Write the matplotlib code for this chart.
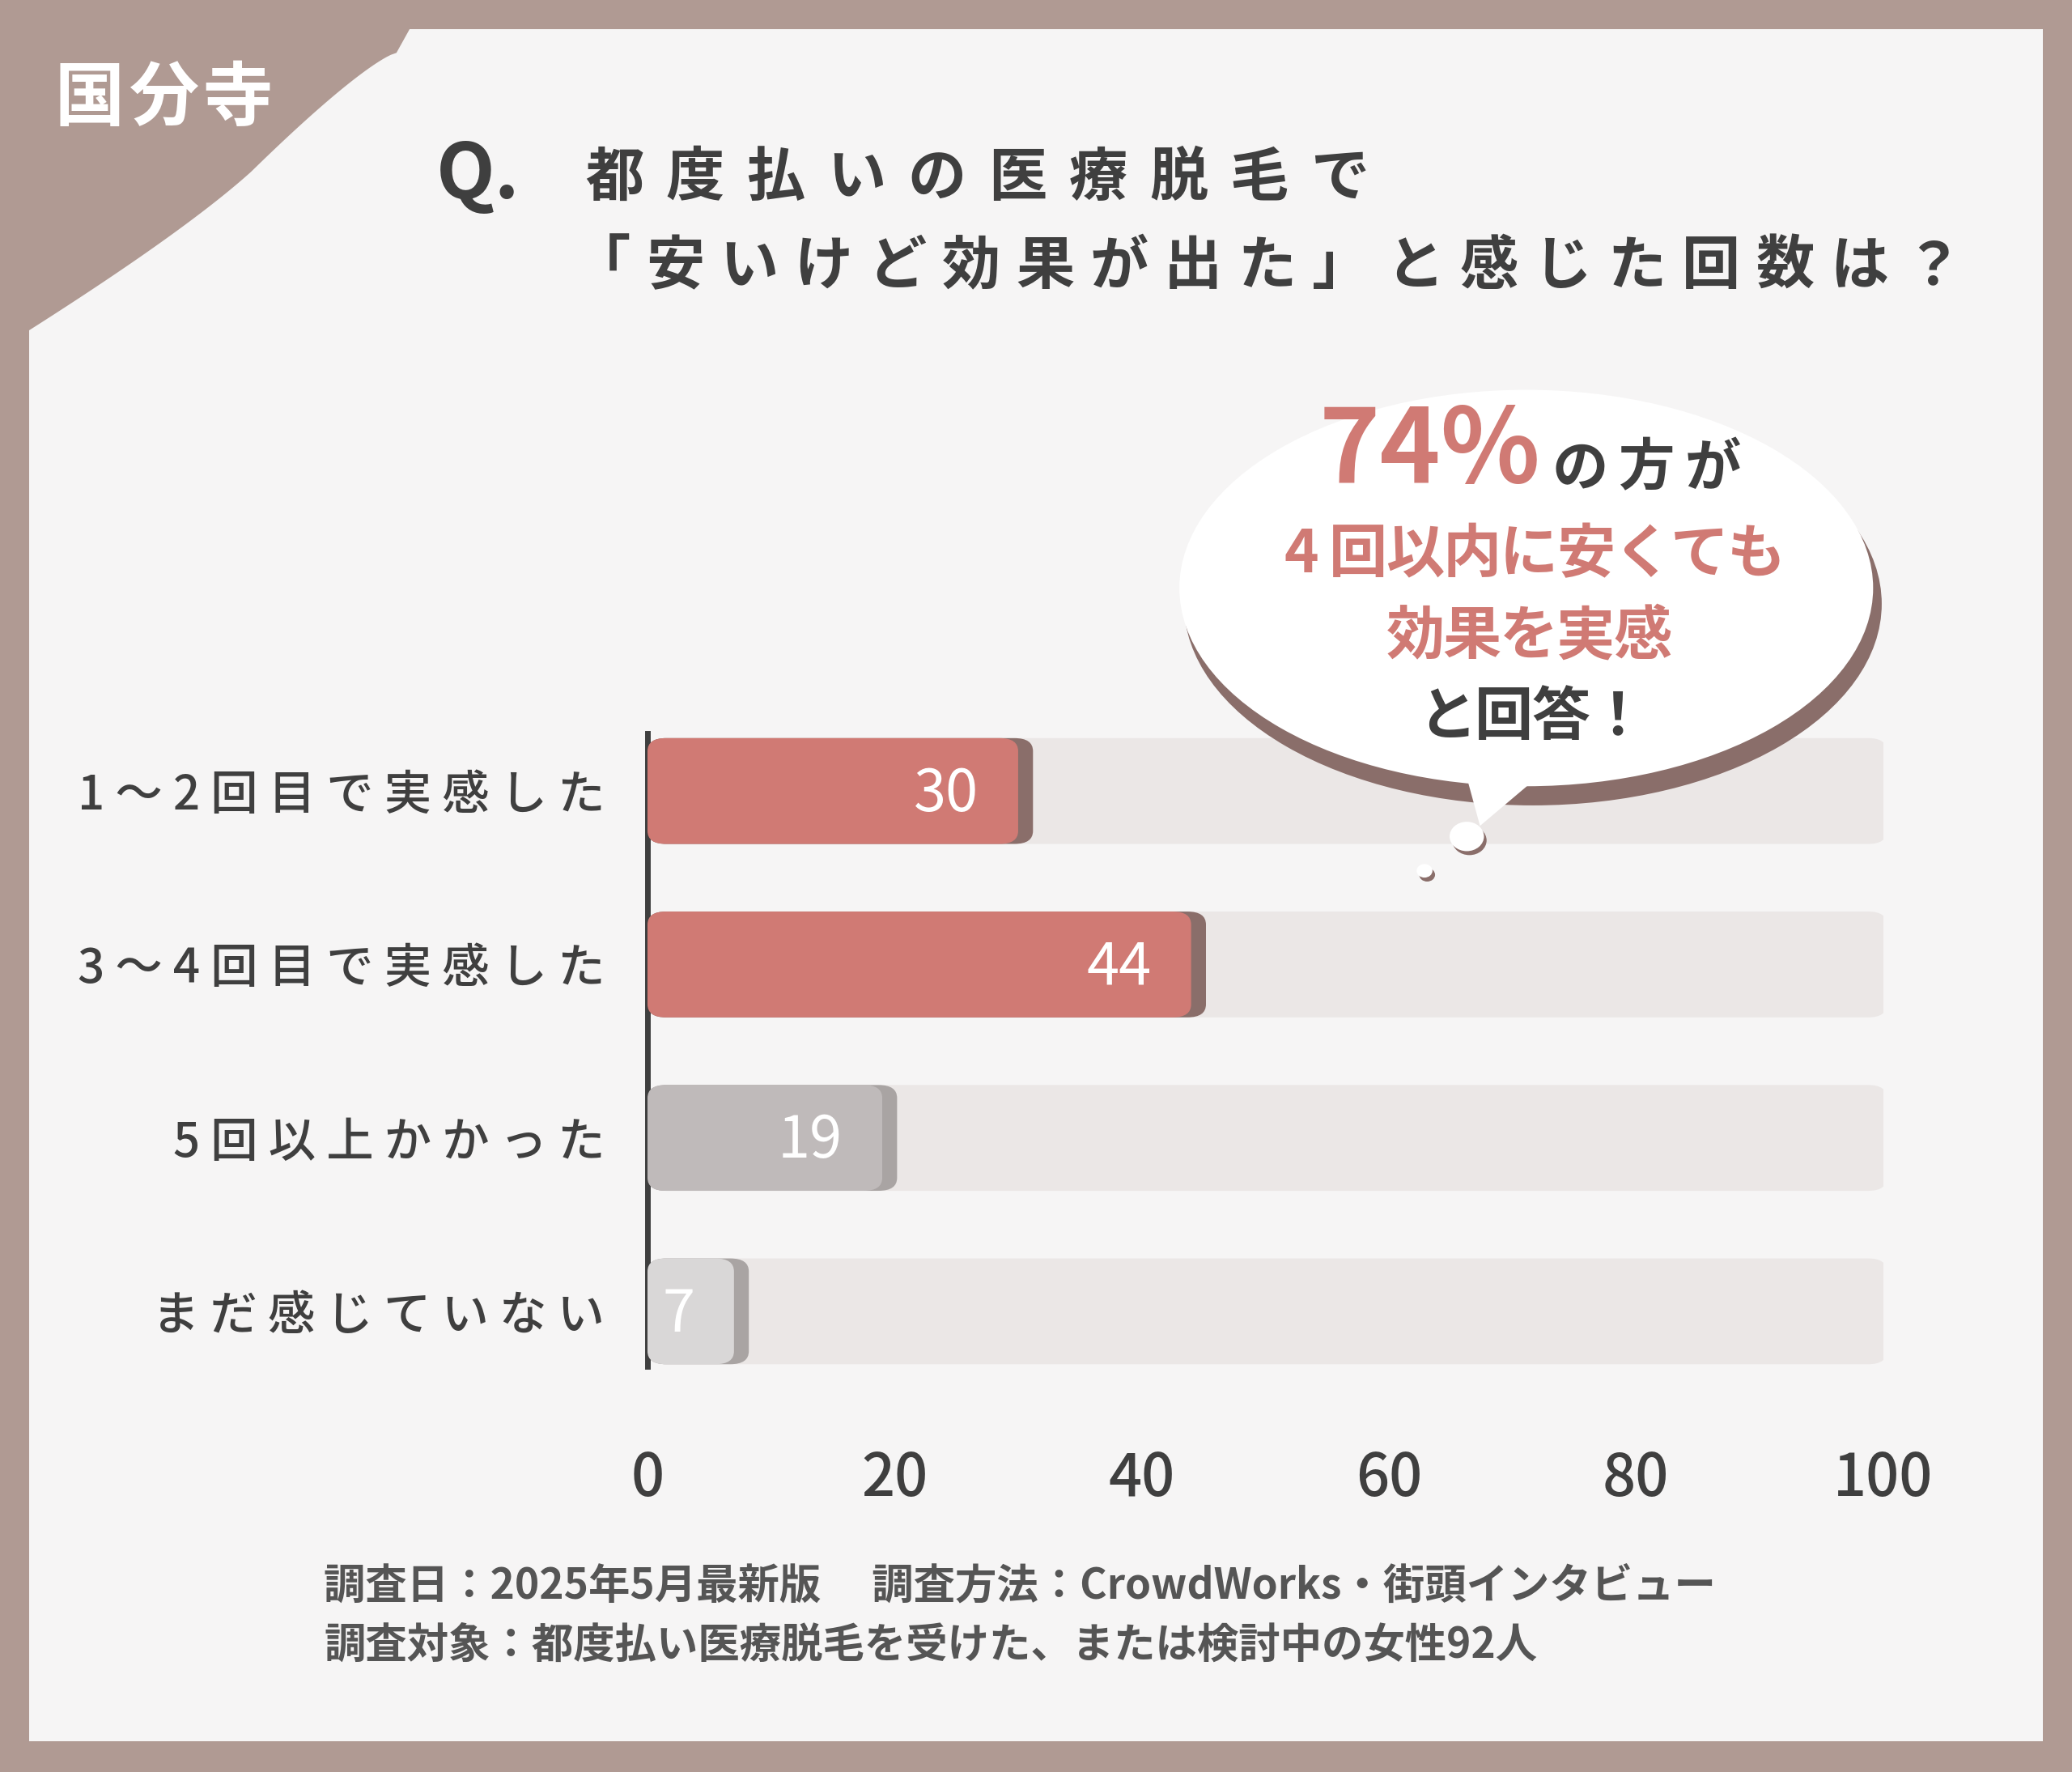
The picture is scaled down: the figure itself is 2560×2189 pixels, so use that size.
import matplotlib
matplotlib.use("Agg")
import matplotlib.pyplot as plt
from matplotlib.patches import Rectangle, FancyBboxPatch, Ellipse, Circle, Polygon
import numpy as np

plt.rcParams["font.family"] = "Noto Sans CJK JP"

categories = ["1～2回目で実感した", "3～4回目で実感した", "5回以上かかった", "まだ感じていない"]
values = [30, 44, 19, 7]
bar_colors = ["#d07a74", "#d07a74", "#bfbaba", "#d9d7d7"]
xticks = [0, 20, 40, 60, 80, 100]

W, H = 1568, 1341  # reference pixel frame
fig = plt.figure(figsize=(25.6, 21.89), dpi=100, facecolor="#b09a93")

def fx(x): return x / W
def fy(y): return 1 - y / H

def spaced(text, x0, y, pitch, **kw):
    # draw characters at a fixed pitch (wide letter spacing)
    for k, ch in enumerate(text):
        fig.text(fx(x0 + k * pitch), fy(y), ch, ha="center", va="center", **kw)

# white panel
fig.patches.append(Rectangle((fx(22), fy(1318)), fx(1546) - fx(22), fy(22) - fy(1318),
                             transform=fig.transFigure, facecolor="#f6f5f5", edgecolor="none", zorder=0))
# brown corner blob
t = np.linspace(0, 1, 60)
curve_x = np.concatenate([[22, 310], 300 - 60 * t ** 0.7 - 50 * t, 190 - 100 * t - 68 * t ** 2, [22]])
curve_y = np.concatenate([[22, 22], 40 + 90 * t, 130 + 90 * t + 30 * t ** 2, [250]])
fig.patches.append(Polygon([(fx(a), fy(b)) for a, b in zip(curve_x, curve_y)], closed=True,
                           transform=fig.transFigure, facecolor="#b09a93", edgecolor="none", zorder=1))
spaced("国分寺", 68, 75, 56, color="white", fontsize=62, fontweight="bold", zorder=2)

# title
fig.text(fx(330), fy(133), "Q.", color="#3f3f3f", fontsize=68, fontweight="bold", va="center")
spaced("都度払いの医療脱毛で", 465, 135, 61, color="#3f3f3f", fontsize=52, fontweight="bold")
spaced("「安いけど効果が出た」と感じた回数は？", 455, 202, 56, color="#3f3f3f", fontsize=52,
       fontweight="bold")

# axes
ax = fig.add_axes([fx(490), fy(1058), fx(1425) - fx(490), fy(533) - fy(1058)], zorder=3)
ax.set_facecolor("none")
y = np.arange(len(categories))
h = 0.61
for i, v in enumerate(values):
    ax.add_patch(FancyBboxPatch((0, i - h / 2), 100.3, h, boxstyle="round,pad=0,rounding_size=1.5",
                                mutation_aspect=0.05, facecolor="#ebe7e6", edgecolor="none", zorder=1))
    ax.add_patch(FancyBboxPatch((0, i - h / 2), v + 1.2, h, boxstyle="round,pad=0,rounding_size=1.5",
                                mutation_aspect=0.05, facecolor="#8a6e6a" if i < 2 else "#a9a4a3",
                                edgecolor="none", zorder=2))
    ax.add_patch(FancyBboxPatch((0, i - h / 2), v, h, boxstyle="round,pad=0,rounding_size=1.5",
                                mutation_aspect=0.05, facecolor=bar_colors[i], edgecolor="none", zorder=3))
    ax.text(v - 3.2, i + 0.02, str(v), color="white", fontsize=52, ha="right", va="center", zorder=4)
ax.set_xlim(0, 100)
ax.set_ylim(3.5, -0.5)
ax.set_yticks(y)
ax.set_yticklabels([" ".join(c) for c in categories], fontsize=42, color="#3f3f3f",
                   fontweight="medium")
ax.set_xticks(xticks)
ax.set_xticklabels([str(v) for v in xticks], fontsize=52, color="#3f3f3f", fontweight="medium")
ax.tick_params(length=0, axis="y", pad=38)
ax.tick_params(length=0, axis="x", pad=45)
for s in ["top", "right", "bottom"]:
    ax.spines[s].set_visible(False)
ax.spines["left"].set_linewidth(5)
ax.spines["left"].set_color("#3f3f3f")
ax.spines["left"].set_bounds(-0.33, 3.32)

# speech bubble
cx, cy = 1155, 445
fig.patches.append(Ellipse((fx(cx + 5), fy(cy + 12)), fx(528), fy(0) - fy(305),
                           transform=fig.transFigure, facecolor="#8a6e6a", edgecolor="none", zorder=5))
fig.patches.append(Ellipse((fx(cx), fy(cy)), fx(525), fy(0) - fy(300),
                           transform=fig.transFigure, facecolor="white", edgecolor="none", zorder=6))
fig.patches.append(Polygon([(fx(1105), fy(570)), (fx(1185), fy(570)), (fx(1120), fy(625))],
                           transform=fig.transFigure, facecolor="white", edgecolor="none", zorder=6))
for (px, py, r) in [(1110, 633, 13), (1078, 659, 6)]:
    fig.patches.append(Circle((fx(px + 2), fy(py + 3)), fx(r), transform=fig.transFigure,
                              facecolor="#8a6e6a", edgecolor="none", zorder=5))
    fig.patches.append(Circle((fx(px), fy(py)), fx(r), transform=fig.transFigure,
                              facecolor="white", edgecolor="none", zorder=6))
fig.text(fx(1082), fy(342), "74%", color="#d07a74", fontsize=92, fontweight="bold",
         ha="center", va="center", zorder=7)
spaced("の方が", 1196, 355, 50, color="#3f3f3f", fontsize=50, fontweight="bold", zorder=7)
spaced("4回以内に安くても", 985, 420, 43, color="#d07a74", fontsize=52, fontweight="bold", zorder=7)
spaced("効果を実感", 1071, 482, 43, color="#d07a74", fontsize=52, fontweight="bold", zorder=7)
spaced("と回答！", 1095, 543, 43, color="#3f3f3f", fontsize=52, fontweight="bold", zorder=7)

# footer
fig.text(fx(245), fy(1200), "調査日：2025年5月最新版　 調査方法：CrowdWorks・街頭インタビュー",
         color="#555555", fontsize=37, fontweight="bold", va="center")
fig.text(fx(245), fy(1245), "調査対象：都度払い医療脱毛を受けた、または検討中の女性92人",
         color="#555555", fontsize=37, fontweight="bold", va="center")

fig.savefig("out.png", dpi=100, facecolor=fig.get_facecolor())
